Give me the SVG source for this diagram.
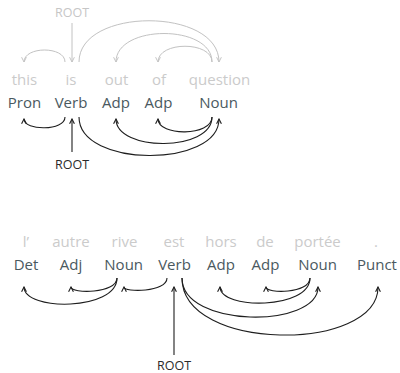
<svg xmlns="http://www.w3.org/2000/svg" width="400" height="373" viewBox="0 0 400 373">
<style>
text{font-family:"Open Sans","Noto Sans",sans-serif;text-anchor:middle}
.w{font-size:15px;fill:#cbcbcb}
.p{font-size:15px;fill:#4a5960}
.rt{font-size:12.5px;fill:#c6c6c6}
.rb{font-size:12.5px;fill:#2a2a2a}
.ag{fill:none;stroke:#c2c2c2;stroke-width:1;marker-end:url(#mg)}
.ad{fill:none;stroke:#1e1e1e;stroke-width:1.1;marker-end:url(#md)}
</style>
<defs>
<marker id="mg" viewBox="0 0 10 10" refX="9" refY="5" markerWidth="6" markerHeight="6" markerUnits="userSpaceOnUse" orient="auto"><path d="M1,1 L9,5 L1,9" fill="none" stroke="#c2c2c2" stroke-width="1.6"/></marker>
<marker id="md" viewBox="0 0 10 10" refX="9" refY="5" markerWidth="6" markerHeight="6" markerUnits="userSpaceOnUse" orient="auto"><path d="M1,1 L9,5 L1,9" fill="none" stroke="#1e1e1e" stroke-width="1.8"/></marker>
</defs>
<rect width="400" height="373" fill="#ffffff"/>
<g id="s1-this"><text class="w" x="24.5" y="85">this</text><text class="p" x="24.5" y="108">Pron</text></g>
<g id="s1-is"><text class="w" x="71" y="85">is</text><text class="p" x="71" y="108">Verb</text></g>
<g id="s1-out"><text class="w" x="116.5" y="85">out</text><text class="p" x="116" y="108">Adp</text></g>
<g id="s1-of"><text class="w" x="159" y="85">of</text><text class="p" x="158.5" y="108">Adp</text></g>
<g id="s1-question"><text class="w" x="219.5" y="85">question</text><text class="p" x="218.5" y="108">Noun</text></g>
<g id="s1-root-top"><text class="rt" x="72" y="17">ROOT</text></g>
<g id="s1-root-bottom"><text class="rb" x="72" y="169">ROOT</text></g>
<g id="s2-l"><text class="w" x="26" y="247">l’</text><text class="p" x="26" y="270">Det</text></g>
<g id="s2-autre"><text class="w" x="71" y="247">autre</text><text class="p" x="71" y="270">Adj</text></g>
<g id="s2-rive"><text class="w" x="124.5" y="247">rive</text><text class="p" x="123.7" y="270">Noun</text></g>
<g id="s2-est"><text class="w" x="174" y="247">est</text><text class="p" x="174.5" y="270">Verb</text></g>
<g id="s2-hors"><text class="w" x="221" y="247">hors</text><text class="p" x="221" y="270">Adp</text></g>
<g id="s2-de"><text class="w" x="265" y="247">de</text><text class="p" x="265.5" y="270">Adp</text></g>
<g id="s2-portee"><text class="w" x="317.5" y="247">portée</text><text class="p" x="317.5" y="270">Noun</text></g>
<g id="s2-punct"><text class="w" x="376" y="247">.</text><text class="p" x="377" y="270">Punct</text></g>
<g id="s2-root"><text class="rb" x="174" y="369.5">ROOT</text></g>
<g id="connectors">
<path class="ag" d="M72 23 L72 62"/>
<path class="ag" d="M65 62 C65 46,24 46,24 62"/>
<path class="ag" d="M79 62 C79 7,219 7,219 62"/>
<path class="ag" d="M212 62 C212 24,116 24,116 62"/>
<path class="ag" d="M212 62 C212 41,158 41,158 62"/>
<path class="ad" d="M65 117 C65 131,24 131,24 119"/>
<path class="ad" d="M79 117 C79 168,219 168,219 119"/>
<path class="ad" d="M212 117 C212 152,116 152,116 119"/>
<path class="ad" d="M212 117 C212 136.5,158 136.5,158 119"/>
<path class="ad" d="M72 152 L72 119"/>
<path class="ad" d="M117 278 C117 311.2,24 311.2,24 287"/>
<path class="ad" d="M117 278 C117 293.8,71 293.8,71 287"/>
<path class="ad" d="M167 278 C167 292.5,124 292.5,124 287"/>
<path class="ad" d="M174 355 L174 287"/>
<path class="ad" d="M310 278 C310 309.8,220 309.8,220 287"/>
<path class="ad" d="M310 278 C310 293.8,266 293.8,266 287"/>
<path class="ad" d="M182 278 C182 328.5,318 328.5,318 287"/>
<path class="ad" d="M182 278 C182 352.5,378 352.5,378 287"/>
</g>
</svg>
